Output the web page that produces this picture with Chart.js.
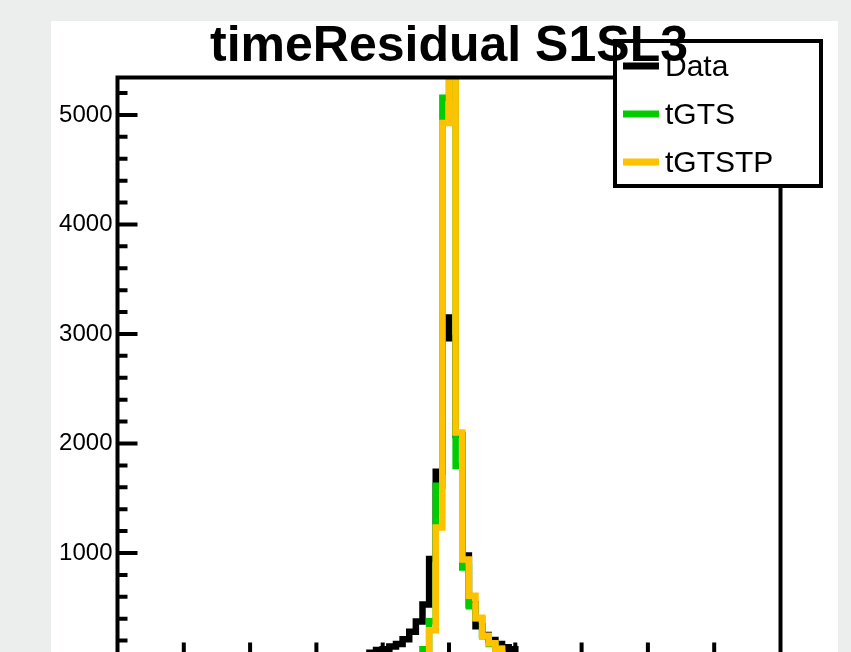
<!DOCTYPE html>
<html>
<head>
<meta charset="utf-8">
<title>timeResidual S1SL3</title>
<script src="https://cdn.jsdelivr.net/npm/chart.js@4.4.1/dist/chart.umd.min.js"></script>
<style>
  body { margin: 0; background: #eceeed; overflow: hidden; width: 851px; height: 652px; }
  #pad { position: absolute; left: 51px; top: 21px; width: 787px; height: 700px; background: #fff; }
  #c { position: absolute; left: 0; top: 0; }
</style>
</head>
<body>
<div id="pad"></div>
<canvas id="c" width="851" height="760"></canvas>
<script>
// histogram binning
const xMin = -100;
const xMax = 100;
const nBins = 100;
const yMax = 5342;

const chartTitle = 'timeResidual S1SL3';
const xTickLabels = ['-100', '-80', '-60', '-40', '-20', '0', '20', '40', '60', '80', '100'];
const yTickLabels = ['0', '1000', '2000', '3000', '4000', '5000'];

const seriesNames = ['Data', 'tGTS', 'tGTSTP'];
const seriesColors = ['#000000', '#00cc00', '#ffc200'];

// bin contents, 100 bins each
const dataCounts = [
    2, 3, 2, 3, 4, 3, 4, 5, 4, 5,
    6, 5, 7, 6, 8, 7, 9, 10, 9, 11,
    12, 13, 14, 16, 17, 19, 21, 24, 26, 29,
    32, 35, 38, 42, 46, 51, 56, 60, 90, 114,
    122, 145, 168, 213, 280, 375, 530, 945, 1741, 3150,
    2960, 2080, 977, 530, 330, 250, 205, 168, 140, 120,
    62, 55, 49, 44, 40, 36, 32, 29, 26, 24,
    22, 20, 18, 16, 15, 14, 12, 11, 10, 9,
    9, 8, 7, 7, 6, 5, 5, 4, 4, 4,
    3, 3, 3, 2, 3, 2, 2, 2, 1, 2
];
const tgtsCounts = [
    0, 1, 0, 1, 1, 0, 1, 1, 2, 1,
    2, 1, 2, 2, 3, 2, 3, 3, 4, 4,
    5, 5, 6, 7, 7, 8, 9, 10, 11, 12,
    13, 15, 16, 18, 20, 22, 25, 28, 31, 35,
    32, 36, 40, 45, 50, 60, 120, 377, 1614, 5156,
    5450, 1795, 868, 514, 400, 240, 170, 125, 58, 50,
    44, 39, 34, 30, 27, 24, 21, 19, 17, 15,
    13, 12, 11, 10, 9, 8, 7, 6, 6, 5,
    5, 4, 4, 3, 3, 3, 2, 2, 2, 2,
    1, 2, 1, 1, 1, 1, 0, 1, 0, 1
];
const tgtstpCounts = [
    0, 1, 1, 0, 1, 1, 1, 2, 1, 2,
    2, 2, 3, 2, 3, 3, 4, 4, 5, 5,
    6, 6, 7, 8, 8, 9, 10, 11, 12, 14,
    15, 17, 18, 20, 22, 25, 27, 30, 34, 37,
    41, 46, 51, 56, 62, 58, 62, 295, 1232, 4927,
    5600, 2100, 941, 609, 409, 245, 175, 125, 60, 52,
    45, 40, 35, 31, 28, 25, 22, 20, 18, 16,
    14, 13, 11, 10, 9, 8, 8, 7, 6, 5,
    5, 4, 4, 4, 3, 3, 3, 2, 2, 2,
    2, 1, 1, 1, 1, 1, 1, 0, 1, 1
];

const binWidth = (xMax - xMin) / nBins;

function histPoints(counts) {
    const pts = counts.map((c, i) => ({ x: xMin + i * binWidth, y: c }));
    pts.push({ x: xMax, y: counts[counts.length - 1] });
    return pts;
}

function makeDataset(i, counts) {
    return {
        label: seriesNames[i],
        data: histPoints(counts),
        borderColor: seriesColors[i],
        borderWidth: 6.5,
        stepped: 'before',
        pointRadius: 0,
        fill: false,
        clip: 0,
        borderCapStyle: 'butt',
        borderJoinStyle: 'miter',
        order: 3 - i   // tGTSTP drawn last, on top
    };
}

// ROOT-like frame, inner ticks, legend box and title
const rootStyle = {
    id: 'rootStyle',
    afterDatasetsDraw(chart) {
        const { ctx, chartArea: a, scales: { x, y } } = chart;
        ctx.save();
        ctx.strokeStyle = '#000';
        ctx.lineWidth = 4;
        ctx.beginPath();
        for (let v = 0; v <= yMax; v += 200) {
            const py = y.getPixelForValue(v);
            const len = v % 1000 === 0 ? 20 : 10;
            ctx.moveTo(a.left, py);
            ctx.lineTo(a.left + len, py);
        }
        for (let v = xMin + 4; v < xMax; v += 4) {
            const px = x.getPixelForValue(v);
            const len = (v - xMin) % 20 === 0 ? 20 : 10;
            ctx.moveTo(px, a.bottom);
            ctx.lineTo(px, a.bottom - len);
        }
        ctx.stroke();
        ctx.strokeRect(a.left, a.top, a.right - a.left, a.bottom - a.top);
        ctx.restore();
    },
    afterDraw(chart) {
        const { ctx, chartArea: a } = chart;
        ctx.save();

        // legend
        ctx.fillStyle = '#fff';
        ctx.fillRect(615, 41, 206, 145);
        ctx.strokeStyle = '#000';
        ctx.lineWidth = 4;
        ctx.strokeRect(615, 41, 206, 145);
        ctx.font = '30px "Liberation Sans", Arial, sans-serif';
        ctx.textAlign = 'left';
        ctx.textBaseline = 'alphabetic';
        chart.data.datasets.forEach((ds, i) => {
            const cy = 66 + i * 48;
            ctx.strokeStyle = ds.borderColor;
            ctx.lineWidth = 7;
            ctx.beginPath();
            ctx.moveTo(623, cy);
            ctx.lineTo(659, cy);
            ctx.stroke();
            ctx.fillStyle = '#000';
            ctx.fillText(ds.label, 665, cy + 9.5);
        });

        // title
        ctx.font = 'bold 50px "Liberation Sans", Arial, sans-serif';
        ctx.textAlign = 'center';
        ctx.fillStyle = '#000';
        ctx.fillText(chartTitle, (a.left + a.right) / 2, 61);
        ctx.restore();
    }
};

const ctx = document.getElementById('c').getContext('2d');

new Chart(ctx, {
    type: 'line',
    data: {
        datasets: [
            makeDataset(0, dataCounts),
            makeDataset(1, tgtsCounts),
            makeDataset(2, tgtstpCounts)
        ]
    },
    options: {
        responsive: false,
        devicePixelRatio: 1,
        animation: false,
        layout: { padding: { left: 0, top: 77.5, right: 70.5, bottom: 0 } },
        plugins: {
            legend: { display: false },
            title: { display: false },
            tooltip: { enabled: false }
        },
        scales: {
            x: {
                type: 'linear',
                min: xMin,
                max: xMax,
                grid: { display: false, drawTicks: false },
                border: { display: false },
                afterBuildTicks: s => { s.ticks = xTickLabels.map(t => ({ value: Number(t) })); },
                afterFit: s => { s.height = 97.5; },
                ticks: {
                    callback: v => String(v),
                    color: '#000',
                    padding: 8,
                    font: { family: 'Liberation Sans', size: 24 }
                }
            },
            y: {
                type: 'linear',
                min: 0,
                max: yMax,
                grid: { display: false, drawTicks: false },
                border: { display: false },
                afterBuildTicks: s => { s.ticks = yTickLabels.map(t => ({ value: Number(t) })); },
                afterFit: s => { s.width = 117.5; },
                ticks: {
                    callback: v => String(v),
                    color: '#000',
                    padding: 5,
                    font: { family: 'Liberation Sans', size: 24 }
                }
            }
        }
    },
    plugins: [rootStyle]
});
</script>
</body>
</html>
